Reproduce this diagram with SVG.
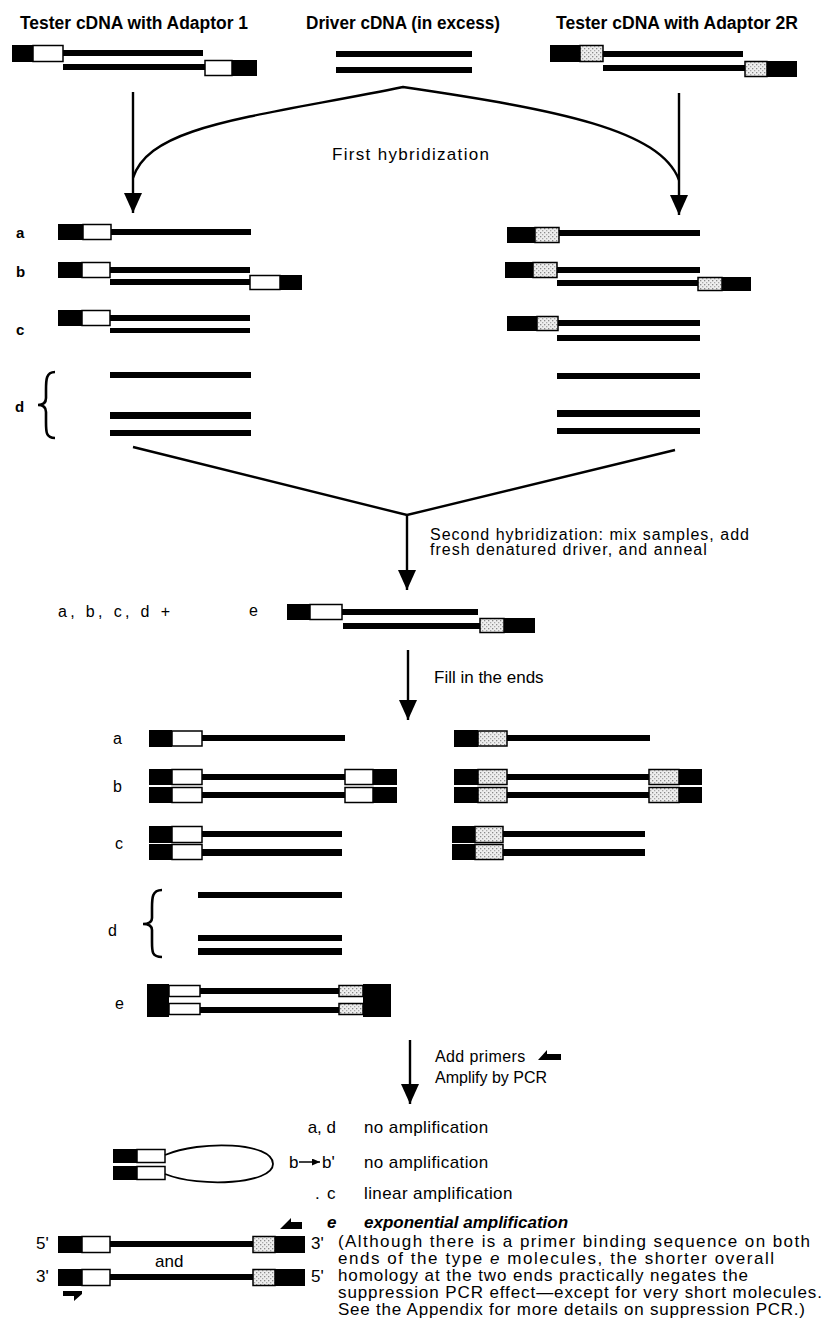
<svg xmlns="http://www.w3.org/2000/svg" width="830" height="1334" viewBox="0 0 830 1334">
<defs>
<style>
.t{font-family:"Liberation Sans",Arial,sans-serif;fill:#000}
.h{font-weight:bold;font-size:18px}
.lb{font-weight:bold;font-size:15px}
.n{font-size:16px}
.m{font-size:17px}
.k{fill:#000}
.w{fill:#fff;stroke:#000;stroke-width:1.5}
.p{fill:url(#stip);stroke:#000;stroke-width:1.5}
.c{fill:none;stroke:#000;stroke-width:2.4}
.br{fill:none;stroke:#000;stroke-width:2.6}
.bi{font-style:italic;font-weight:bold}
</style>
<pattern id="stip" width="4" height="4" patternUnits="userSpaceOnUse">
<rect width="4" height="4" fill="#eeeeee"/>
<rect x="0" y="0" width="1.3" height="1.3" fill="#8a8a8a"/>
<rect x="2" y="2" width="1.3" height="1.3" fill="#a8a8a8"/>
</pattern>
<marker id="ah" markerUnits="userSpaceOnUse" markerWidth="20" markerHeight="18" viewBox="0 0 20 18" refX="20" refY="9" orient="auto">
<path d="M0,0 L20,9 L0,18 Z" fill="#000"/>
</marker>
<marker id="ahs" markerUnits="userSpaceOnUse" markerWidth="8" markerHeight="7" viewBox="0 0 8 7" refX="8" refY="3.5" orient="auto">
<path d="M0,0 L8,3.5 L0,7 Z" fill="#000"/>
</marker>
</defs>
<rect width="830" height="1334" fill="#fff"/>

<!-- headings -->
<g id="titles">
<text class="t h" x="20" y="29" textLength="228" lengthAdjust="spacingAndGlyphs">Tester cDNA with Adaptor 1</text>
<text class="t h" x="306" y="29" textLength="194" lengthAdjust="spacingAndGlyphs">Driver cDNA (in excess)</text>
<text class="t h" x="556" y="29" textLength="242" lengthAdjust="spacingAndGlyphs">Tester cDNA with Adaptor 2R</text>
</g>

<!-- starting material -->
<g id="tester1">
<rect class="k" x="12" y="45" width="21" height="17"/><rect class="w" x="33" y="45.5" width="30" height="16"/><rect class="k" x="63" y="50" width="140" height="6"/>
<rect class="k" x="63" y="64" width="142" height="6"/><rect class="w" x="205" y="60.5" width="27" height="15"/><rect class="k" x="232" y="60" width="25" height="16"/>
</g>
<g id="driver">
<rect class="k" x="336" y="51" width="136" height="6"/>
<rect class="k" x="336" y="67" width="136" height="6"/>
</g>
<g id="tester2">
<rect class="k" x="550" y="45" width="30" height="17"/><rect class="p" x="580" y="45.5" width="23" height="16"/><rect class="k" x="603" y="51" width="140" height="6"/>
<rect class="k" x="603" y="65" width="142" height="6"/><rect class="p" x="745" y="61.5" width="22" height="15"/><rect class="k" x="767" y="61" width="30" height="16"/>
</g>

<!-- connectors -->
<g id="connectors">
<line class="c" x1="133" y1="92" x2="133" y2="213" marker-end="url(#ah)"/>
<line class="c" x1="679" y1="93" x2="679" y2="215" marker-end="url(#ah)"/>
<path class="c" d="M133,178 C150,125 250,118 403,87 C560,110 660,130 679,180"/>
<polyline class="c" points="133,447 407,515 675,450"/>
<line class="c" x1="407" y1="515" x2="407" y2="590" marker-end="url(#ah)"/>
<line class="c" x1="408" y1="650" x2="408" y2="720" marker-end="url(#ah)"/>
<line class="c" x1="410" y1="1040" x2="410" y2="1104" marker-end="url(#ah)"/>
</g>

<g id="step1-label">
<text class="t m" x="332" y="160" textLength="157">First hybridization</text>
</g>

<!-- products of the first hybridization -->
<g id="hyb1-left">
<text class="t lb" x="16" y="238">a</text>
<rect class="k" x="58" y="224" width="25" height="16"/><rect class="w" x="83" y="224.5" width="28" height="15"/><rect class="k" x="111" y="229" width="140" height="6"/>
<text class="t lb" x="16" y="277">b</text>
<rect class="k" x="58" y="262" width="24" height="16"/><rect class="w" x="82" y="262.5" width="28" height="15"/><rect class="k" x="110" y="267" width="140" height="6"/>
<rect class="k" x="110" y="279" width="140" height="6"/><rect class="w" x="250" y="275.5" width="30" height="14"/><rect class="k" x="280" y="275" width="22" height="15"/>
<text class="t lb" x="16" y="335">c</text>
<rect class="k" x="58" y="310" width="24" height="16"/><rect class="w" x="82" y="310.5" width="28" height="15"/><rect class="k" x="110" y="315" width="140" height="6"/>
<rect class="k" x="110" y="328" width="140" height="5"/>
<text class="t lb" x="15" y="412">d</text>
<path class="br" d="M55,372 C46,372 46,380 46,390 L46,398 C46,403 43,405 38,405 C43,405 46,407 46,412 L46,422 C46,432 46,438 55,438"/>
<rect class="k" x="110" y="372" width="141" height="6"/>
<rect class="k" x="110" y="412" width="141" height="7"/>
<rect class="k" x="110" y="430" width="141" height="6"/>
</g>
<g id="hyb1-right">
<rect class="k" x="507" y="227" width="28" height="16"/><rect class="p" x="535" y="227.5" width="24" height="15"/><rect class="k" x="559" y="230" width="141" height="6"/>
<rect class="k" x="505" y="262" width="28" height="16"/><rect class="p" x="533" y="262.5" width="24" height="15"/><rect class="k" x="557" y="267" width="143" height="6"/>
<rect class="k" x="557" y="280" width="141" height="6"/><rect class="p" x="698" y="277.5" width="24" height="13"/><rect class="k" x="722" y="277" width="29" height="14"/>
<rect class="k" x="507" y="316" width="30" height="15"/><rect class="p" x="537" y="316.5" width="21" height="14"/><rect class="k" x="558" y="320" width="142" height="6"/>
<rect class="k" x="557" y="335" width="143" height="6"/>
<rect class="k" x="557" y="373" width="143" height="6"/>
<rect class="k" x="557" y="410" width="143" height="7"/>
<rect class="k" x="557" y="428" width="143" height="6"/>
</g>

<!-- second hybridization -->
<g id="step2-label">
<text class="t n" x="430" y="540" letter-spacing="1">Second hybridization: mix samples, add</text>
<text class="t n" x="430" y="555" letter-spacing="1">fresh denatured driver, and anneal</text>
</g>
<g id="hyb2">
<text class="t n" x="58" y="617" textLength="112">a, b, c, d +</text>
<text class="t n" x="249" y="616">e</text>
<rect class="k" x="287" y="604" width="23" height="16"/><rect class="w" x="310" y="604.5" width="32" height="15"/><rect class="k" x="342" y="609" width="136" height="6"/>
<rect class="k" x="343" y="623" width="137" height="6"/><rect class="p" x="480" y="618.5" width="24" height="14"/><rect class="k" x="504" y="618" width="31" height="15"/>
</g>

<g id="step3-label">
<text class="t m" x="434" y="683">Fill in the ends</text>
</g>

<!-- after filling in the ends -->
<g id="fill-left">
<text class="t n" x="113" y="744">a</text>
<rect class="k" x="149" y="730" width="23" height="17"/><rect class="w" x="172" y="731" width="30" height="15"/><rect class="k" x="202" y="735" width="143" height="6"/>
<text class="t n" x="113" y="792">b</text>
<rect class="k" x="149" y="769" width="23" height="16"/><rect class="w" x="172" y="769.5" width="30" height="15"/><rect class="k" x="202" y="774" width="143" height="6"/><rect class="w" x="345" y="769.5" width="28" height="15"/><rect class="k" x="373" y="769" width="24" height="16"/>
<rect class="k" x="149" y="787" width="23" height="16"/><rect class="w" x="172" y="787.5" width="30" height="15"/><rect class="k" x="202" y="792" width="143" height="6"/><rect class="w" x="345" y="787.5" width="28" height="15"/><rect class="k" x="373" y="787" width="24" height="16"/>
<text class="t n" x="115" y="849">c</text>
<rect class="k" x="149" y="826" width="23" height="17"/><rect class="w" x="172" y="826.5" width="30" height="16"/><rect class="k" x="202" y="831" width="140" height="6"/>
<rect class="k" x="149" y="844" width="23" height="16"/><rect class="w" x="172" y="844.5" width="30" height="15"/><rect class="k" x="202" y="849" width="140" height="7"/>
<text class="t n" x="108" y="936">d</text>
<path class="br" d="M162,890 C152,890 152,898 152,908 L152,918 C152,922 149,924 143,924 C149,924 152,926 152,930 L152,942 C152,952 152,957 162,957"/>
<rect class="k" x="198" y="892" width="144" height="6"/>
<rect class="k" x="198" y="935" width="144" height="6"/>
<rect class="k" x="198" y="948" width="144" height="7"/>
<text class="t n" x="115" y="1009">e</text>
<rect class="k" x="147" y="984" width="22" height="33"/><rect class="k" x="363" y="984" width="28" height="33"/>
<rect class="w" x="169" y="985.5" width="31" height="11"/><rect class="w" x="169" y="1003.5" width="31" height="11"/>
<rect class="k" x="200" y="988" width="140" height="6"/><rect class="k" x="200" y="1007" width="140" height="6"/>
<rect class="p" x="339" y="985.5" width="24" height="11"/><rect class="p" x="339" y="1003.5" width="24" height="11"/>
</g>
<g id="fill-right">
<rect class="k" x="454" y="730" width="24" height="17"/><rect class="p" x="478" y="731" width="29" height="15"/><rect class="k" x="507" y="735" width="143" height="6"/>
<rect class="k" x="454" y="769" width="24" height="16"/><rect class="p" x="478" y="769.5" width="29" height="15"/><rect class="k" x="507" y="774" width="142" height="6"/><rect class="p" x="649" y="769.5" width="30" height="15"/><rect class="k" x="679" y="769" width="23" height="16"/>
<rect class="k" x="454" y="787" width="24" height="16"/><rect class="p" x="478" y="787.5" width="29" height="15"/><rect class="k" x="507" y="792" width="142" height="6"/><rect class="p" x="649" y="787.5" width="30" height="15"/><rect class="k" x="679" y="787" width="23" height="16"/>
<rect class="k" x="452" y="826" width="23" height="17"/><rect class="p" x="475" y="826.5" width="28" height="16"/><rect class="k" x="503" y="831" width="142" height="6"/>
<rect class="k" x="452" y="844" width="23" height="16"/><rect class="p" x="475" y="844.5" width="28" height="15"/><rect class="k" x="503" y="849" width="142" height="7"/>
</g>

<!-- PCR -->
<g id="step4-label">
<text class="t n" x="435" y="1062" letter-spacing="0.4">Add primers</text>
<path class="k" d="M538,1060 L547,1050 L547,1054 L561,1054 L561,1060 Z"/>
<text class="t n" x="435" y="1083">Amplify by PCR</text>
</g>

<g id="result-ad">
<text class="t m" x="336" y="1133" text-anchor="end">a,  d</text>
<text class="t m" x="364" y="1133" letter-spacing="0.4">no amplification</text>
</g>
<g id="result-b">
<rect class="k" x="113" y="1149" width="24" height="14"/><rect class="w" x="137" y="1149.5" width="28" height="13"/>
<rect class="k" x="113" y="1166" width="24" height="14"/><rect class="w" x="137" y="1166.5" width="28" height="13"/>
<path fill="none" stroke="#000" stroke-width="1.8" d="M165,1155 C200,1140 273,1142 273,1164 C273,1184 200,1188 165,1174"/>
<text class="t m" x="289" y="1168">b</text>
<line x1="299" y1="1162" x2="320" y2="1162" stroke="#000" stroke-width="1.5" marker-end="url(#ahs)"/>
<text class="t m" x="322" y="1168">b'</text>
<text class="t m" x="364" y="1168" letter-spacing="0.4">no amplification</text>
</g>
<g id="result-c">
<text class="t m" x="315" y="1199">.</text>
<text class="t m" x="327" y="1199">c</text>
<text class="t m" x="364" y="1199" letter-spacing="0.4">linear amplification</text>
</g>
<g id="result-e">
<text class="t m bi" x="327" y="1228">e</text>
<text class="t m bi" x="364" y="1228">exponential amplification</text>
<path class="k" d="M280,1229 L291,1218 L291,1222 L302,1222 L302,1229 Z"/>
<text class="t m" x="36" y="1249">5'</text>
<rect class="k" x="58" y="1236" width="24" height="17"/><rect class="w" x="82" y="1236.5" width="28" height="16"/><rect class="k" x="110" y="1241" width="143" height="6"/><rect class="p" x="253" y="1236.5" width="22" height="16"/><rect class="k" x="275" y="1236" width="30" height="17"/>
<text class="t m" x="311" y="1249">3'</text>
<text class="t m" x="155" y="1267">and</text>
<text class="t m" x="36" y="1282">3'</text>
<rect class="k" x="58" y="1269" width="24" height="17"/><rect class="w" x="82" y="1269.5" width="28" height="16"/><rect class="k" x="110" y="1274" width="143" height="6"/><rect class="p" x="253" y="1269.5" width="22" height="16"/><rect class="k" x="275" y="1269" width="30" height="17"/>
<text class="t m" x="311" y="1282">5'</text>
<path class="k" d="M63,1291 L82,1291 L82,1294 L74,1301 L74,1296 L63,1296 Z"/>
</g>
<g id="note">
<text class="t m" x="338" y="1247" textLength="472">(Although there is a primer binding sequence on both</text>
<text class="t m" x="338" y="1264" textLength="436">ends of the type <tspan font-style="italic">e</tspan> molecules, the shorter overall</text>
<text class="t m" x="338" y="1281" textLength="410">homology at the two ends practically negates the</text>
<text class="t m" x="338" y="1298" textLength="484">suppression PCR effect—except for very short molecules.</text>
<text class="t m" x="338" y="1315" textLength="467">See the Appendix for more details on suppression PCR.)</text>
</g>
</svg>
